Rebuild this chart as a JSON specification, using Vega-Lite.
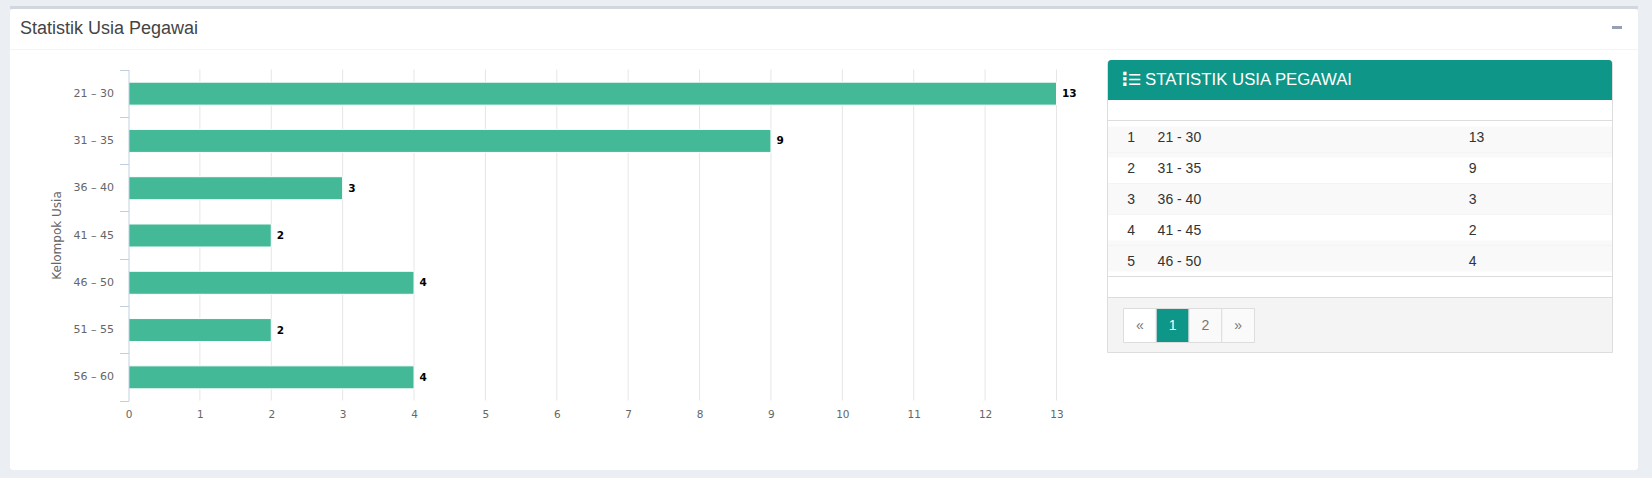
{"$schema":"https://vega.github.io/schema/vega-lite/v6.json","width":1652,"height":478,"padding":0,"autosize":{"type":"none"},"background":"#ebeff4","config":{"view":{"stroke":null},"text":{"font":"Liberation Sans"}},"datasets":{"usia":[{"kelompok":"21 - 30","jumlah":13},{"kelompok":"31 - 35","jumlah":9},{"kelompok":"36 - 40","jumlah":3},{"kelompok":"41 - 45","jumlah":2},{"kelompok":"46 - 50","jumlah":4},{"kelompok":"51 - 55","jumlah":2},{"kelompok":"56 - 60","jumlah":4}],"tabel":[{"no":1,"kelompok":"21 - 30","jumlah":13},{"no":2,"kelompok":"31 - 35","jumlah":9},{"no":3,"kelompok":"36 - 40","jumlah":3},{"no":4,"kelompok":"41 - 45","jumlah":2},{"no":5,"kelompok":"46 - 50","jumlah":4}],"grid":[{"t":1},{"t":2},{"t":3},{"t":4},{"t":5},{"t":6},{"t":7},{"t":8},{"t":9},{"t":10},{"t":11},{"t":12},{"t":13}],"halaman":[{"p":"«"},{"p":"1"},{"p":"2"},{"p":"»"}]},"resolve":{"scale":{"x":"independent","y":"independent"},"axis":{"x":"independent","y":"independent"}},"layer":[
{"data":{"values":[{"part":"card"}]},"mark":{"type":"rect","fill":"#ffffff","cornerRadius":3},"encoding":{"x":{"datum":0,"type":"quantitative","axis":null,"scale":{"domain":[0,1],"range":[10,1638],"nice":false,"zero":false}},"x2":{"datum":1},"y":{"datum":0,"type":"quantitative","axis":null,"scale":{"domain":[0,1],"range":[9,470],"nice":false,"zero":false}},"y2":{"datum":1}}},
{"data":{"values":[{"part":"top"}]},"mark":{"type":"rect","fill":"#d2d6de"},"encoding":{"x":{"datum":0,"type":"quantitative","axis":null,"scale":{"domain":[0,1],"range":[10,1638],"nice":false,"zero":false}},"x2":{"datum":1},"y":{"datum":0,"type":"quantitative","axis":null,"scale":{"domain":[0,1],"range":[6,9],"nice":false,"zero":false}},"y2":{"datum":1}}},
{"data":{"values":[{"part":"divider"}]},"mark":{"type":"rule","stroke":"#f4f4f4","strokeWidth":1},"encoding":{"x":{"datum":0,"type":"quantitative","axis":null,"scale":{"domain":[0,1],"range":[10,1638],"nice":false,"zero":false}},"x2":{"datum":1},"y":{"datum":0,"type":"quantitative","axis":null,"scale":{"domain":[0,1],"range":[49.5,50],"nice":false,"zero":false}}}},
{"data":{"values":[{"judul":"Statistik Usia Pegawai"}]},"mark":{"type":"text","align":"left","baseline":"middle","fontSize":18,"fill":"#444444"},"encoding":{"text":{"field":"judul"},"x":{"datum":0,"type":"quantitative","axis":null,"scale":{"domain":[0,1],"range":[20,1638],"nice":false,"zero":false}},"y":{"datum":0,"type":"quantitative","axis":null,"scale":{"domain":[0,1],"range":[28.5,29],"nice":false,"zero":false}}}},
{"data":{"values":[{"part":"minus"}]},"mark":{"type":"rect","fill":"#97a0b3"},"encoding":{"x":{"datum":0,"type":"quantitative","axis":null,"scale":{"domain":[0,1],"range":[1612,1622],"nice":false,"zero":false}},"x2":{"datum":1},"y":{"datum":0,"type":"quantitative","axis":null,"scale":{"domain":[0,1],"range":[26,29],"nice":false,"zero":false}},"y2":{"datum":1}}},
{"data":{"name":"grid"},"mark":{"type":"rule","stroke":"#e6e6e6","strokeWidth":1},"encoding":{"x":{"field":"t","type":"quantitative","axis":null,"scale":{"domain":[0,13],"range":[128.5,1056.5],"nice":false,"zero":false}},"y":{"datum":0,"type":"quantitative","axis":null,"scale":{"domain":[0,1],"range":[69.5,400.5],"nice":false,"zero":false}},"y2":{"datum":1}}},
{"data":{"name":"usia"},"mark":{"type":"bar","orient":"horizontal","size":23,"yOffset":0.5,"fill":"#43b997","stroke":"#ffffff","strokeWidth":1},"encoding":{"x":{"field":"jumlah","type":"quantitative","scale":{"domain":[0,13],"range":[128.5,1056.5],"nice":false,"zero":false},"axis":{"title":null,"zindex":1,"offset":-77.5,"orient":"bottom","values":[0,1,2,3,4,5,6,7,8,9,10,11,12,13],"domain":false,"ticks":false,"grid":false,"labelFlush":false,"labelPadding":9,"labelFont":"DejaVu Sans","labelFontSize":10.5,"labelColor":"#666666"}},"y":{"field":"kelompok","type":"nominal","sort":null,"scale":{"type":"band","range":[69.5,400.5],"padding":0},"axis":{"title":"Kelompok Usia","zindex":1,"orient":"left","offset":-128.5,"tickBand":"extent","tickSize":9,"tickColor":"#c0d0e0","domainColor":"#c0d0e0","labelPadding":6,"labelFont":"DejaVu Sans","labelFontSize":11,"labelColor":"#666666","labelExpr":"replace(datum.label,' - ',' – ')","titleFont":"DejaVu Sans","titleFontSize":12,"titleFontWeight":"normal","titleColor":"#666666","titlePadding":10,"grid":false}}}},
{"data":{"name":"usia"},"mark":{"type":"text","align":"left","baseline":"middle","dx":5.5,"dy":1,"font":"DejaVu Sans","fontSize":10.5,"fontWeight":"bold","fill":"#000000"},"encoding":{"text":{"field":"jumlah"},"x":{"field":"jumlah","type":"quantitative","axis":null,"scale":{"domain":[0,13],"range":[128.5,1056.5],"nice":false,"zero":false}},"y":{"field":"kelompok","type":"nominal","sort":null,"axis":null,"scale":{"type":"band","range":[69.5,400.5],"padding":0}}}},
{"data":{"values":[{"part":"panel"}]},"mark":{"type":"rect","fill":"#ffffff","stroke":"#dddddd","strokeWidth":1,"cornerRadius":3},"encoding":{"x":{"datum":0,"type":"quantitative","axis":null,"scale":{"domain":[0,1],"range":[1107.5,1612.5],"nice":false,"zero":false}},"x2":{"datum":1},"y":{"datum":0,"type":"quantitative","axis":null,"scale":{"domain":[0,1],"range":[60.5,352.5],"nice":false,"zero":false}},"y2":{"datum":1}}},
{"data":{"values":[{"part":"heading"}]},"mark":{"type":"rect","fill":"#0e9688","cornerRadiusTopLeft":3,"cornerRadiusTopRight":3},"encoding":{"x":{"datum":0,"type":"quantitative","axis":null,"scale":{"domain":[0,1],"range":[1108,1612],"nice":false,"zero":false}},"x2":{"datum":1},"y":{"datum":0,"type":"quantitative","axis":null,"scale":{"domain":[0,1],"range":[60,100],"nice":false,"zero":false}},"y2":{"datum":1}}},
{"data":{"values":[{"ikon":"⋮"}]},"mark":{"type":"text","align":"center","baseline":"middle","font":"DejaVu Sans","fontWeight":"bold","fontSize":18,"fill":"#ffffff"},"encoding":{"text":{"field":"ikon"},"x":{"datum":0,"type":"quantitative","axis":null,"scale":{"domain":[0,1],"range":[1125,1613],"nice":false,"zero":false}},"y":{"datum":0,"type":"quantitative","axis":null,"scale":{"domain":[0,1],"range":[79.5,100],"nice":false,"zero":false}}}},
{"data":{"values":[{"ikon":"☰"}]},"mark":{"type":"text","align":"left","baseline":"middle","font":"DejaVu Sans","fontWeight":"bold","fontSize":15,"fill":"#ffffff"},"encoding":{"text":{"field":"ikon"},"x":{"datum":0,"type":"quantitative","axis":null,"scale":{"domain":[0,1],"range":[1128,1613],"nice":false,"zero":false}},"y":{"datum":0,"type":"quantitative","axis":null,"scale":{"domain":[0,1],"range":[79.5,100],"nice":false,"zero":false}}}},
{"data":{"values":[{"judul":"STATISTIK USIA PEGAWAI"}]},"mark":{"type":"text","align":"left","baseline":"middle","fontSize":16.8,"fill":"#ffffff"},"encoding":{"text":{"field":"judul"},"x":{"datum":0,"type":"quantitative","axis":null,"scale":{"domain":[0,1],"range":[1145,1613],"nice":false,"zero":false}},"y":{"datum":0,"type":"quantitative","axis":null,"scale":{"domain":[0,1],"range":[79.5,100],"nice":false,"zero":false}}}},
{"data":{"name":"tabel"},"transform":[{"filter":"datum.no % 2 == 1"}],"mark":{"type":"bar","orient":"horizontal","size":31,"fill":"#f9f9f9"},"encoding":{"x":{"datum":0,"type":"quantitative","axis":null,"scale":{"domain":[0,1],"range":[1108,1612],"nice":false,"zero":false}},"x2":{"datum":1},"y":{"field":"no","type":"quantitative","axis":null,"scale":{"domain":[1,5],"range":[137,261],"nice":false,"zero":false}}}},
{"data":{"name":"tabel"},"mark":{"type":"rule","stroke":"#f4f4f4","strokeWidth":1,"yOffset":15.5},"encoding":{"x":{"datum":0,"type":"quantitative","axis":null,"scale":{"domain":[0,1],"range":[1108,1612],"nice":false,"zero":false}},"x2":{"datum":1},"y":{"field":"no","type":"quantitative","axis":null,"scale":{"domain":[1,5],"range":[137,261],"nice":false,"zero":false}}}},
{"data":{"values":[{"part":"footer"}]},"mark":{"type":"rect","fill":"#f4f4f4","stroke":"#dddddd","strokeWidth":1},"encoding":{"x":{"datum":0,"type":"quantitative","axis":null,"scale":{"domain":[0,1],"range":[1107.5,1612.5],"nice":false,"zero":false}},"x2":{"datum":1},"y":{"datum":0,"type":"quantitative","axis":null,"scale":{"domain":[0,1],"range":[297.5,352.5],"nice":false,"zero":false}},"y2":{"datum":1}}},
{"data":{"values":[{"y":0},{"y":1}]},"mark":{"type":"rule","stroke":"#dddddd","strokeWidth":1},"encoding":{"x":{"datum":0,"type":"quantitative","axis":null,"scale":{"domain":[0,1],"range":[1108,1612],"nice":false,"zero":false}},"x2":{"datum":1},"y":{"field":"y","type":"quantitative","axis":null,"scale":{"domain":[0,1],"range":[120.5,276.5],"nice":false,"zero":false}}}},
{"data":{"name":"tabel"},"mark":{"type":"text","align":"left","baseline":"middle","dy":1,"fontSize":14,"fill":"#333333"},"encoding":{"text":{"field":"no"},"x":{"datum":0.04,"type":"quantitative","axis":null,"scale":{"domain":[0,1],"range":[1107,1613],"nice":false,"zero":false}},"y":{"field":"no","type":"quantitative","axis":null,"scale":{"domain":[1,5],"range":[137,261],"nice":false,"zero":false}}}},
{"data":{"name":"tabel"},"mark":{"type":"text","align":"left","baseline":"middle","dy":1,"fontSize":14,"fill":"#333333"},"encoding":{"text":{"field":"kelompok"},"x":{"datum":0.1,"type":"quantitative","axis":null,"scale":{"domain":[0,1],"range":[1107,1613],"nice":false,"zero":false}},"y":{"field":"no","type":"quantitative","axis":null,"scale":{"domain":[1,5],"range":[137,261],"nice":false,"zero":false}}}},
{"data":{"name":"tabel"},"mark":{"type":"text","align":"left","baseline":"middle","dy":1,"fontSize":14,"fill":"#333333"},"encoding":{"text":{"field":"jumlah"},"x":{"datum":0.715,"type":"quantitative","axis":null,"scale":{"domain":[0,1],"range":[1107,1613],"nice":false,"zero":false}},"y":{"field":"no","type":"quantitative","axis":null,"scale":{"domain":[1,5],"range":[137,261],"nice":false,"zero":false}}}},
{"data":{"name":"halaman"},"mark":{"type":"rect","stroke":"#dddddd","strokeWidth":1},"encoding":{"x":{"field":"p","type":"nominal","sort":null,"axis":null,"scale":{"type":"band","range":[1123.5,1254.5],"padding":0}},"y":{"datum":0,"type":"quantitative","axis":null,"scale":{"domain":[0,1],"range":[308.5,342.5],"nice":false,"zero":false}},"y2":{"datum":1},"fill":{"field":"p","type":"nominal","legend":null,"scale":{"domain":["«","1","2","»"],"range":["#ffffff","#0e9688","#fafafa","#fafafa"]}}}},
{"data":{"name":"halaman"},"mark":{"type":"text","align":"center","baseline":"middle","fontSize":14},"encoding":{"text":{"field":"p"},"x":{"field":"p","type":"nominal","sort":null,"axis":null,"scale":{"type":"band","range":[1123.5,1254.5],"padding":0},"band":0.5},"y":{"datum":0,"type":"quantitative","axis":null,"scale":{"domain":[0,1],"range":[325.5,342.5],"nice":false,"zero":false}},"color":{"field":"p","type":"nominal","legend":null,"scale":{"domain":["«","1","2","»"],"range":["#777777","#ffffff","#777777","#777777"]}}}}
]}
